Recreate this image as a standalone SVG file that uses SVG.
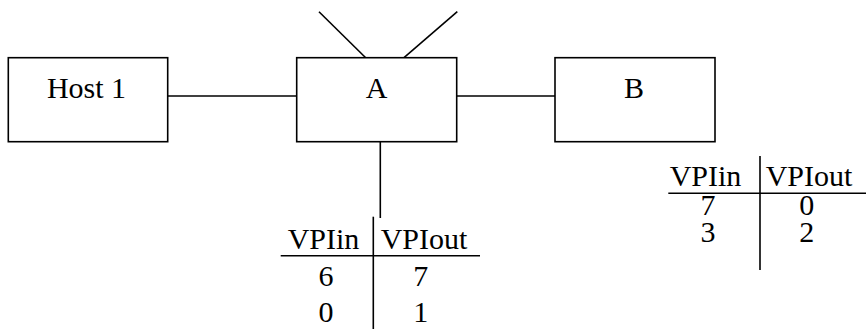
<svg xmlns="http://www.w3.org/2000/svg" width="866" height="329" viewBox="0 0 866 329">
<style>
.box{fill:#fff;stroke:#000;stroke-width:1.6}
.ln{stroke:#000;stroke-width:1.6;fill:none}
text{font-family:"Liberation Serif","Times New Roman",serif;font-size:30px;fill:#000;text-anchor:middle}
</style>
<rect width="866" height="329" fill="#fff"/>
<g id="connectors">
<line class="ln" x1="168" y1="96" x2="297" y2="96"/>
<line class="ln" x1="457" y1="96" x2="555" y2="96"/>
<line class="ln" x1="319" y1="11.7" x2="365.7" y2="57.7"/>
<line class="ln" x1="457.3" y1="11.7" x2="404" y2="57.7"/>
<line class="ln" x1="380.3" y1="141.7" x2="380.3" y2="218"/>
</g>
<g id="host1">
<rect class="box" x="8.3" y="57.7" width="159.4" height="84"/>
<text x="86.5" y="98.3">Host 1</text>
</g>
<g id="A">
<rect class="box" x="296.7" y="57.7" width="160" height="84"/>
<text x="376.7" y="98.3">A</text>
</g>
<g id="B">
<rect class="box" x="555" y="57.7" width="160" height="84"/>
<text x="634" y="98.3">B</text>
</g>
<g id="tableA">
<line class="ln" x1="373.3" y1="216.7" x2="373.3" y2="329"/>
<line class="ln" x1="280.7" y1="255.7" x2="480" y2="255.7"/>
<text x="323.5" y="249.3">VPIin</text>
<text x="424" y="249.3">VPIout</text>
<text x="326" y="285.7">6</text>
<text x="420.7" y="285.7">7</text>
<text x="326" y="321.7">0</text>
<text x="420.7" y="321.7">1</text>
</g>
<g id="tableB">
<line class="ln" x1="760" y1="156" x2="760" y2="270"/>
<line class="ln" x1="668.3" y1="193.3" x2="866" y2="193.3"/>
<text x="705.5" y="186">VPIin</text>
<text x="809" y="186">VPIout</text>
<text x="708" y="215">7</text>
<text x="806.7" y="215">0</text>
<text x="708" y="241.7">3</text>
<text x="806.7" y="241.7">2</text>
</g>
</svg>
